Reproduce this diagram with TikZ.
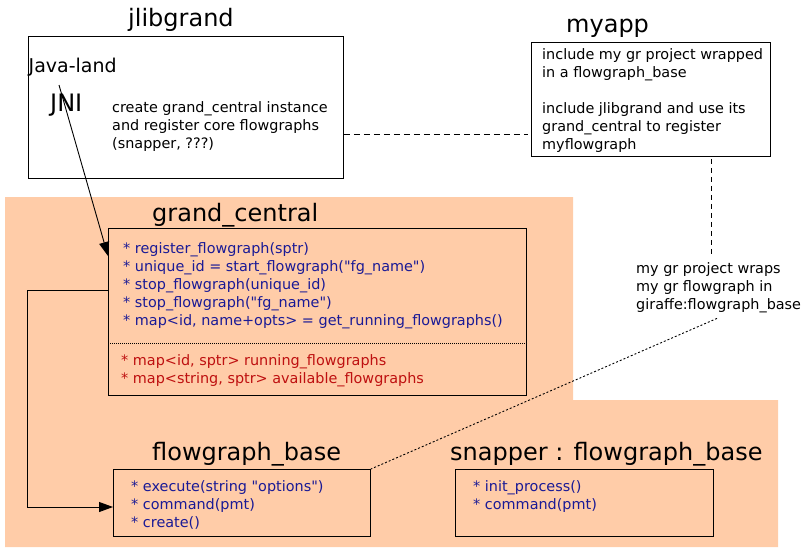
\documentclass[tikz,border=0pt]{standalone}
\usepackage{fontspec}
\setmainfont{DejaVu Sans}[Ligatures=TeXOff]
\usetikzlibrary{calc,arrows.meta}
\definecolor{peach}{RGB}{255,204,168}
\definecolor{mblue}{RGB}{26,26,150}
\definecolor{mred}{RGB}{190,16,16}
\tikzset{
  box/.style={draw, line width=0.9pt, inner sep=0pt, anchor=north west},
  title/.style={font=\fontsize{24}{28}\selectfont, anchor=base west, inner sep=0pt},
  body/.style={font=\fontsize{14.4}{18}\selectfont, align=left, anchor=north west, inner sep=0pt},
  arr/.style={line width=0.9pt, -{Triangle[length=14pt,width=10pt]}},
  dashone/.style={line width=1pt, dash pattern=on 6pt off 4pt},
  dashtwo/.style={line width=1pt, dash pattern=on 5pt off 4pt},
  dotline/.style={line width=0.9pt, dash pattern=on 2pt off 2pt},
}
\begin{document}
\begin{tikzpicture}[x=1pt,y=-1pt]
\useasboundingbox (0,0) rectangle (804,550);
% background region
\fill[peach] (5,197) -- (573,197) -- (573,400) -- (778,400) -- (778,547) -- (5,547) -- cycle;

% jlibgrand
\node[title] (jlibtitle) at (128,26) {jlibgrand};
\node[box, minimum width=315.5pt, minimum height=142pt] (jlib) at (27.5,36) {};
\node[anchor=base west, inner sep=0pt, font=\fontsize{19}{22}\selectfont] (java) at (28.5,72) {Java-land};
\node[anchor=base west, inner sep=0pt, font=\fontsize{24}{28}\selectfont] (jni) at (50,111) {JNI};
\node[body] (create) at (112,99.9) {\strut create grand\_central instance\\and register core flowgraphs\\(snapper, ???)};

% myapp
\node[title] (myapptitle) at (566,32) {myapp};
\node[box, minimum width=239pt, minimum height=114pt] (myapp) at (531,42) {};
\node[body] (myapptext) at (542,46.4) {\strut include my gr project wrapped\\in a flowgraph\_base\\[18pt]include jlibgrand and use its\\grand\_central to register\\myflowgraph};

% wrap note
\node[body] (wrap) at (636,260.4) {\strut my gr project wraps\\my gr flowgraph in\\giraffe:flowgraph\_base};

% grand_central
\node[title] (gctitle) at (152,221) {grand\_central};
\node[box, minimum width=418pt, minimum height=167pt] (gc) at (108,228) {};
\node[body, text=mblue] (gcops) at (123,240.4) {\strut * register\_flowgraph(sptr)\\* unique\_id = start\_flowgraph("fg\_name")\\* stop\_flowgraph(unique\_id)\\* stop\_flowgraph("fg\_name")\\* map<id, name+opts> = get\_running\_flowgraphs()};
\draw[line width=0.7pt, dash pattern=on 1pt off 1pt] ($(gc.north west)+(0,115)$) -- ($(gc.north east)+(0,115)$);
\node[body, text=mred] (gcattr) at (121,352.4) {\strut * map<id, sptr> running\_flowgraphs\\* map<string, sptr> available\_flowgraphs};

% flowgraph_base
\node[title] (fbtitle) at (152,460) {flowgraph\_base};
\node[box, minimum width=257pt, minimum height=67pt] (fb) at (113,469) {};
\node[body, text=mblue] (fbops) at (131,478.4) {\strut * execute(string "options")\\* command(pmt)\\* create()};

% snapper
\node[title] (sntitle) at (450,460) {snapper : flowgraph\_base};
\node[box, minimum width=258pt, minimum height=67pt] (snap) at (455,469) {};
\node[body, text=mblue] (snops) at (473,478.4) {\strut * init\_process()\\* command(pmt)};

% connectors
\coordinate (jnitail) at (59,85);
\coordinate (gcin) at ($(gc.north west)+(0,28)$);
\draw[arr] (jnitail) -- (gcin);

\coordinate (gcout) at ($(gc.north west)+(0,62)$);
\coordinate (fbin) at ($(fb.north west)+(0,38)$);
\draw[arr] (gcout) -- (gcout -| jlib.west) |- (fbin);

\coordinate (jlibout) at ($(jlib.south east)+(0,-44)$);
\coordinate (myappin) at ($(myapp.south west)+(-3,-22)$);
\draw[dashone] (jlibout) -- (myappin);

\coordinate (myappdown) at ($(myapp.south west)+(180,2)$);
\coordinate (wraptop) at ($(wrap.north west)+(75,-5)$);
\draw[dashtwo] (myappdown) -- (wraptop);

\coordinate (wrapbottom) at ($(wrap.north west)+(81,58)$);
\draw[dotline] (wrapbottom) -- (fb.north east);
\end{tikzpicture}
\end{document}
